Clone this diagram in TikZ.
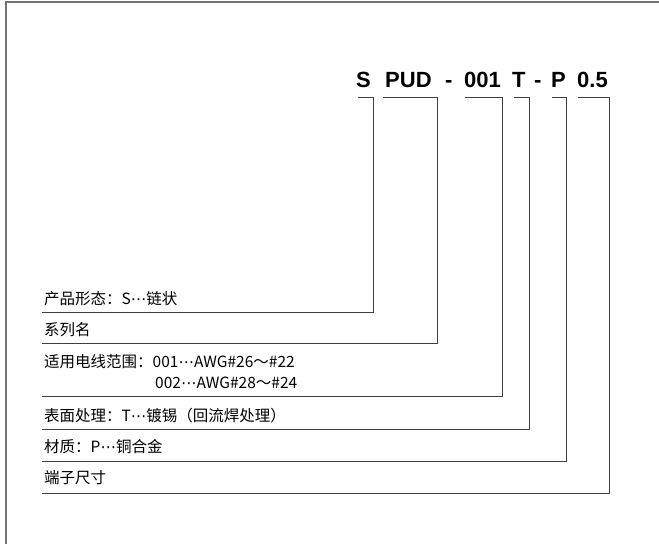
\documentclass[tikz,border=0pt]{standalone}
\usepackage{fontspec}
\setmainfont{Liberation Sans}
\newfontfamily\cjk{Noto Sans CJK SC}
\newfontfamily\dvs{DejaVu Sans}
\newcommand\mdots{{\dvs ⋯}}
\begin{document}
\begin{tikzpicture}[x=1pt,y=-1pt,
  code/.style={font=\fontsize{22}{24}\selectfont\bfseries, inner sep=0, anchor=base west},
  lbl/.style={font=\cjk\fontsize{15.5}{17}\selectfont, inner sep=0, anchor=base west},
  rule/.style={draw=black!75, line width=0.8pt},
  frame/.style={draw=black!55, line width=1.4pt}]
\useasboundingbox (0,0) rectangle (659,544);
\draw[frame] (659,2) -- (6,2) -- (6,544);
% code
\node[code] (cS)   at (356,87) {S};
\node[code] (cPUD) at (385,87) {PUD};
\node[code] (cd1)  at (445,87) {-};
\node[code] (c001) at (464,87) {001};
\node[code] (cT)   at (512,87) {T};
\node[code] (cd2)  at (534,87) {-};
\node[code] (cP)   at (551,87) {P};
\node[code] (c05)  at (577,87) {0.5};
% labels
\node[lbl] (l1) at (44,304) {产品形态：S\mdots 链状};
\node[lbl] (l2) at (44,335) {系列名};
\node[lbl] (l3) at (44,367) {适用电线范围：001\mdots AWG\#26～\#22};
\node[lbl] (l3b) at (155,388) {002\mdots AWG\#28～\#24};
\node[lbl] (l4) at (44,421) {表面处理：T\mdots 镀锡（回流焊处理）};
\node[lbl] (l5) at (44,452) {材质：P\mdots 铜合金};
\node[lbl] (l6) at (44,483) {端子尺寸};
% brackets
\draw[rule] (358,97) -- (373,97) -- (373,312) -- (42,312);
\draw[rule] (383,97) -- (437,97) -- (437,343) -- (42,343);
\draw[rule] (465,97) -- (502,97) -- (502,396) -- (42,396);
\draw[rule] (514,97) -- (529,97) -- (529,429) -- (42,429);
\draw[rule] (552,97) -- (566,97) -- (566,461) -- (42,461);
\draw[rule] (578,97) -- (609,97) -- (609,493) -- (42,493);
\end{tikzpicture}
\end{document}
